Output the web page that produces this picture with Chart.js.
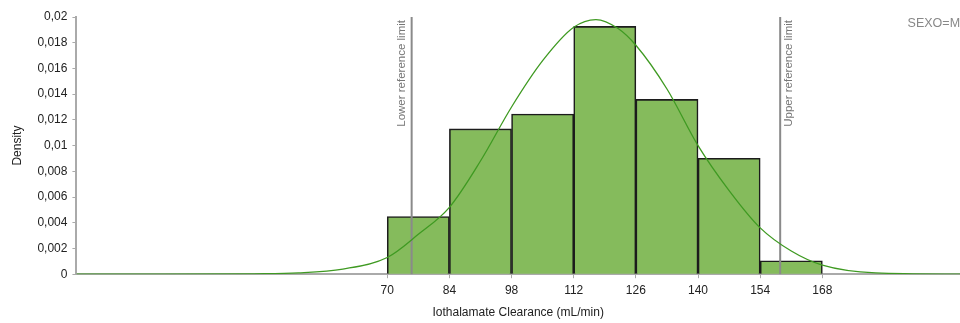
<!DOCTYPE html>
<html>
<head>
<meta charset="utf-8">
<script src="https://cdn.jsdelivr.net/npm/chart.js@4.4.1/dist/chart.umd.min.js"></script>
<style>
  body { margin: 0; background: #fff; }
  #wrap { width: 960px; height: 323px; }
</style>
</head>
<body>
<div id="wrap"><canvas id="myChart" width="960" height="323"></canvas></div>
<script>
// histogram bins (centre of each 14 mL/min bin) and densities
const binCenters = [77, 91, 105, 119, 133, 147, 161];
const binDensity = [0.00448, 0.0113, 0.01245, 0.01927, 0.01359, 0.00901, 0.00104];

// fitted normal curve
const curveX = [0, 20, 40, 50, 60, 70, 77, 84, 91, 98, 105, 112, 117, 122, 126, 133, 140, 147, 154, 161, 168, 180, 200];
const curveY = [0, 0, 0.00003, 0.0001, 0.0004, 0.0013, 0.0031, 0.0052, 0.0088, 0.013, 0.0166, 0.0192, 0.0198, 0.0191, 0.0178, 0.0144, 0.01, 0.0065, 0.0036, 0.0018, 0.0007, 0.0001, 0];

const xTicks = [70, 84, 98, 112, 126, 140, 154, 168];
const lowerLimit = 75.5;
const upperLimit = 158.5;
const groupLabel = 'SEXO=M';

//region labels on reference lines
const refLabels = {
    id: 'refLabels',
    afterDatasetsDraw(chart) {
        const c = chart.ctx;
        const xs = chart.scales.x, ys = chart.scales.y;
        c.save();
        c.font = '11.5px "Liberation Sans", Arial, sans-serif';
        c.fillStyle = '#777';
        c.textAlign = 'right';
        c.textBaseline = 'middle';
        [[lowerLimit, -10, 'Lower reference limit'], [upperLimit, 9, 'Upper reference limit']].forEach(function (r) {
            c.save();
            c.translate(xs.getPixelForValue(r[0]) + r[1], ys.getPixelForValue(0.02) + 3);
            c.rotate(-Math.PI / 2);
            c.fillText(r[2], 0, 0);
            c.restore();
        });
        c.font = '12.5px "Liberation Sans", Arial, sans-serif';
        c.fillStyle = '#888';
        c.textAlign = 'left';
        c.fillText(groupLabel, xs.getPixelForValue(187.2), ys.getPixelForValue(0.0195));
        c.restore();
    }
};
//endregion

const ctx = document.getElementById('myChart');
let chart = new Chart(ctx, {
    data: {
        datasets: [
            {
                type: 'line',
                data: curveX.map((x, i) => ({x: x, y: curveY[i]})),
                borderColor: '#3f9a22',
                borderWidth: 1.3,
                pointRadius: 0,
                cubicInterpolationMode: 'monotone',
                order: 1
            },
            {
                type: 'line',
                data: [{x: lowerLimit, y: 0}, {x: lowerLimit, y: 0.02}],
                borderColor: '#8a8a8a',
                borderWidth: 2,
                pointRadius: 0,
                order: 2
            },
            {
                type: 'line',
                data: [{x: upperLimit, y: 0}, {x: upperLimit, y: 0.02}],
                borderColor: '#8a8a8a',
                borderWidth: 2,
                pointRadius: 0,
                order: 2
            },
            {
                type: 'bar',
                data: binCenters.map((x, i) => ({x: x, y: binDensity[i]})),
                backgroundColor: '#85bb5c',
                borderColor: '#1c1c1c',
                borderWidth: 1.6,
                barPercentage: 1,
                categoryPercentage: 1,
                order: 3
            }
        ]
    },
    options: {
        responsive: false,
        animation: false,
        layout: {padding: {top: 17, right: 0, left: 10, bottom: 3}},
        plugins: {legend: {display: false}, tooltip: {enabled: false}},
        scales: {
            x: {
                type: 'linear',
                offset: false,
                min: 0,
                max: 199,
                afterBuildTicks: axis => { axis.ticks = xTicks.map(v => ({value: v})); },
                grid: {display: true, offset: false, drawOnChartArea: false, tickLength: 4, color: '#aaa'},
                border: {color: '#aaa', width: 2},
                ticks: {color: '#222', font: {family: '"Liberation Sans", Arial', size: 12}, padding: 5, maxRotation: 0},
                title: {display: true, text: 'Iothalamate Clearance (mL/min)', color: '#222', font: {family: '"Liberation Sans", Arial', size: 12}, padding: {top: 3, bottom: 0}}
            },
            y: {
                min: 0,
                max: 0.02,
                ticks: {
                    stepSize: 0.002,
                    color: '#222',
                    font: {family: '"Liberation Sans", Arial', size: 12},
                    padding: 5,
                    callback: v => String(+v.toFixed(3)).replace('.', ',')
                },
                grid: {display: true, drawOnChartArea: false, tickLength: 4, color: '#aaa'},
                border: {color: '#aaa', width: 2},
                title: {display: true, text: 'Density', color: '#222', font: {family: '"Liberation Sans", Arial', size: 12}, padding: {top: 0, bottom: 8}}
            }
        }
    },
    plugins: [refLabels]
});
</script>
</body>
</html>
